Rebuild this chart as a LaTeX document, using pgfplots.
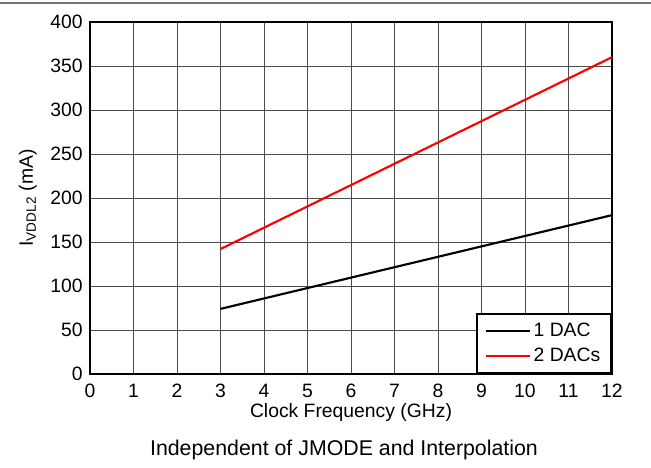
\documentclass[border=0pt]{standalone}
\usepackage{pgfplots}
\pgfplotsset{compat=1.18}
\usepackage{fontspec}
\setmainfont{Liberation Sans}
\begin{document}
\begin{tikzpicture}
\begin{axis}[
  name=ax,
  scale only axis,
  width=391.5pt, height=264pt,
  xmin=0, xmax=12, ymin=0, ymax=400,
  xtick={0,1,...,12}, ytick={0,50,...,400},
  grid=major,
  major grid style={line width=0.6pt, draw=black!70},
  axis line style={line width=1.6pt},
  major tick length=0pt,
  tick label style={font=\fontsize{14.5}{16}\selectfont},
  xticklabel style={yshift=-4pt},
  yticklabel style={xshift=-2pt},
  /pgf/number format/assume math mode=true,
  xlabel={Clock Frequency (GHz)},
  ylabel={I\textsubscript{VDDL2} (mA)},
  label style={font=\fontsize{14.5}{16}\selectfont},
  xlabel style={at={(axis description cs:0.5,-0.108)}, anchor=center},
  ylabel style={at={(axis description cs:-0.119,0.5)}, anchor=center},
  legend style={draw=black, line width=1.6pt, font=\fontsize{14.5}{16}\selectfont, inner xsep=6pt, inner ysep=5pt, legend cell align=left, at={(1,0)}, anchor=south east, row sep=3pt},
  legend image code/.code={\draw[#1, line width=1.6pt] (0pt,0pt) -- (27pt,0pt); \path (0pt,0pt) -- (33pt,0pt);},
]
\addplot[black, line width=1.6pt] coordinates {(3,74) (12,180.5)};
\addlegendentry{1 DAC}
\addplot[red, line width=1.6pt] coordinates {(3,142) (12,360)};
\addlegendentry{2 DACs}
\end{axis}
\draw[black!55, line width=1.6pt] ([xshift=-67.5pt,yshift=14.25pt]ax.north west) -- ([xshift=29.25pt,yshift=14.25pt]ax.north east);
\node[font=\fontsize{16}{18}\selectfont] at ([xshift=-5.25pt,yshift=-57pt]ax.south) {Independent of JMODE and Interpolation};
\pgfresetboundingbox
\path ([xshift=-67.5pt,yshift=16.5pt]ax.north west) rectangle ([xshift=29.25pt,yshift=-70.5pt]ax.south east);
\end{tikzpicture}
\end{document}
